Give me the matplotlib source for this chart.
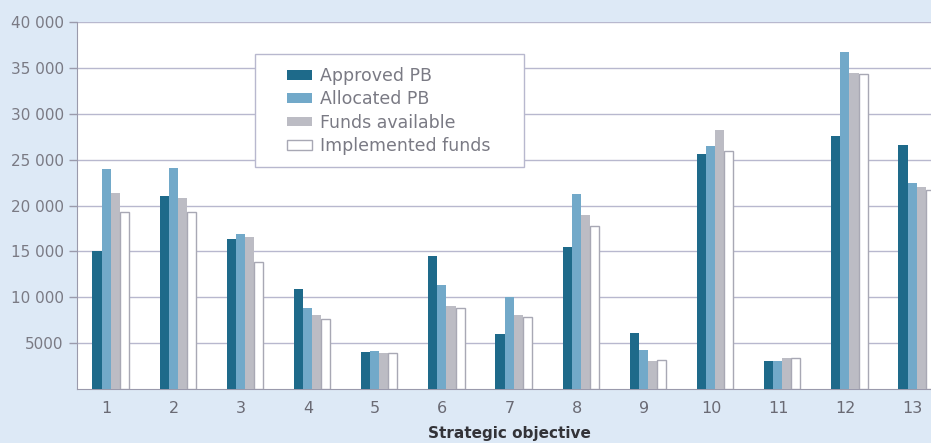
import numpy as np
import matplotlib
matplotlib.use("Agg")
import matplotlib.pyplot as plt
from matplotlib.patches import Rectangle

# strategic objectives 1..13
objectives = [str(i) for i in range(1, 14)]
approved = [15000, 21000, 16400, 10900, 4000, 14500, 6000, 15500, 6100, 25600, 3000, 27600, 26600]
allocated = [24000, 24100, 16900, 8800, 4100, 11300, 10000, 21300, 4300, 26500, 3000, 36700, 22500]
available = [21400, 20800, 16600, 8100, 3900, 9000, 8100, 19000, 3100, 28200, 3400, 34500, 22000]
implemented = [19300, 19300, 13800, 7600, 3900, 8800, 7800, 17800, 3200, 26000, 3400, 34400, 21700]

ytick_vals = [5000, 10000, 15000, 20000, 25000, 30000, 35000, 40000]
ytick_labels = ["5000", "10 000", "15 000", "20 000", "25 000", "30 000", "35 000", "40 000"]

fig = plt.figure(figsize=(9.31, 4.43), dpi=100)
fig.patch.set_facecolor("#dde9f6")
ax = fig.add_axes([0.0827, 0.122, 0.93, 0.828])
ax.set_facecolor("white")

x = np.arange(1, 14)
w = 0.135
shift = 0.06
ax.bar(x + shift - 1.5 * w, approved, w, color="#1e6a8a", label="Approved PB", zorder=3)
ax.bar(x + shift - 0.5 * w, allocated, w, color="#72a9c9", label="Allocated PB", zorder=3)
ax.bar(x + shift + 0.5 * w, available, w, color="#bcbcc4", label="Funds available", zorder=3)
ax.bar(x + shift + 1.5 * w, implemented, w, color="white", edgecolor="#a8a8b4", linewidth=1,
       label="Implemented funds", zorder=3)

ax.set_xlim(0.56, 13.45)
ax.set_ylim(0, 40000)
ax.set_yticks(ytick_vals)
ax.set_yticklabels(ytick_labels)
ax.set_xticks(x)
ax.set_xticklabels(objectives)
ax.yaxis.grid(True, color="#b8b8ce", linewidth=1, zorder=0)
ax.tick_params(axis="y", colors="#9a9aac", labelcolor="#7a7a84", labelsize=11, length=6, width=1)
ax.tick_params(axis="x", length=0, labelcolor="#6a6a74", labelsize=11.5, pad=9)
for s in ["top", "right"]:
    ax.spines[s].set_visible(False)
for s in ["left", "bottom"]:
    ax.spines[s].set_color("#9a9aac")
ax.set_xlabel("Strategic objective", fontsize=11, fontweight="bold", color="#333338", labelpad=7)

# legend box drawn separately so the padding can match
box = Rectangle((0.2056, 0.6049), 0.3107, 0.3079, transform=ax.transAxes, facecolor="white",
                edgecolor="#b8b8ce", linewidth=1, zorder=4)
ax.add_patch(box)
leg = ax.legend(loc="upper left", bbox_to_anchor=(0.2426, 0.877), frameon=False,
                fontsize=12.5, handlelength=1.45, handleheight=0.5, handletextpad=0.45,
                borderpad=0, labelspacing=0.3, borderaxespad=0)
for t in leg.get_texts():
    t.set_color("#7a7a84")
leg.set_zorder(5)

fig.savefig("out.png", dpi=100, facecolor=fig.get_facecolor())
